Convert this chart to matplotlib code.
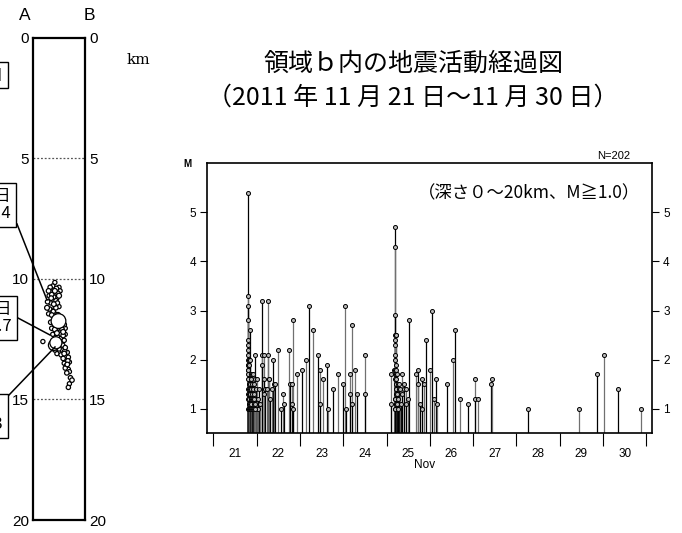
"""M-T diagram of earthquakes in region b, with the depth cross-section strip on the left."""
import numpy as np
import matplotlib
matplotlib.use("Agg")
import matplotlib.pyplot as plt
from matplotlib.lines import Line2D

plt.rcParams['font.family'] = ['Liberation Sans', 'DejaVu Sans']
JP = ['Noto Sans CJK JP', 'DejaVu Sans']

W, H = 682, 533

def fx(x):
    return x / W

def fy(y):
    return 1 - y / H

# ---- data: time (day of Nov 2011) and magnitude ----
mt_day = [
    # swarm start, 21 Nov evening
    21.800, 21.802, 21.804, 21.806, 21.810, 21.805, 21.808, 21.812, 21.803, 21.815,
    21.807, 21.811, 21.809, 21.813, 21.816, 21.806, 21.818, 21.804, 21.814, 21.820,
    21.810, 21.822, 21.808, 21.817, 21.825, 21.812, 21.819, 21.826, 21.805, 21.823,
    21.828, 21.832, 21.838, 21.843, 21.848, 21.853, 21.858, 21.866, 21.872, 21.878,
    21.850, 21.835, 21.840, 21.845, 21.855, 21.860, 21.862, 21.870, 21.875, 21.880,
    21.885, 21.890, 21.895, 21.900, 21.905, 21.910, 21.915, 21.920, 21.925, 21.930,
    21.940, 21.950, 21.960, 21.965, 21.975, 21.985, 22.000, 22.020, 22.030, 22.040,
    22.060, 22.080, 21.935, 21.945, 21.955, 21.970,
    22.120, 22.125, 22.130, 22.160, 22.165, 22.170, 22.200, 22.230, 22.260, 22.275,
    22.280, 22.290, 22.310, 22.350, 22.370, 22.400, 22.420, 22.490, 22.560, 22.620,
    22.640, 22.740, 22.760, 22.810, 22.815, 22.840, 22.850, 22.930, 23.040, 23.150,
    23.220, 23.300, 23.410, 23.460, 23.470, 23.540, 23.620, 23.660, 23.760, 23.890,
    23.990, 24.050, 24.055, 24.160, 24.165, 24.200, 24.205, 24.280, 24.310, 24.500,
    24.505,
    # second burst, 25 Nov
    25.100, 25.102, 25.170, 25.195, 25.198, 25.200, 25.203, 25.210, 25.220, 25.205,
    25.202, 25.207, 25.201, 25.209, 25.204, 25.212, 25.206, 25.214, 25.199, 25.216,
    25.211, 25.218, 25.208, 25.222, 25.213, 25.225, 25.196, 25.228, 25.215, 25.230,
    25.197, 25.232, 25.235, 25.250, 25.255, 25.260, 25.280, 25.290, 25.320, 25.330,
    25.185, 25.190, 25.240, 25.245, 25.265, 25.270,
    25.350, 25.355, 25.400, 25.405, 25.450, 25.455, 25.500, 25.530, 25.670, 25.730,
    25.735, 25.770, 25.820, 25.830, 25.870, 25.910, 26.000, 26.060, 26.100, 26.140,
    26.170, 26.400, 26.540, 26.590, 26.690, 26.890, 27.040, 27.050, 27.110, 27.410,
    27.440, 28.270, 29.450, 29.850, 30.020, 30.350, 30.870,
]
mt_mag = [
    5.4, 3.3, 3.1, 2.8, 2.4, 2.3, 2.2, 2.1, 2.0, 2.0,
    1.9, 1.9, 1.8, 1.8, 1.7, 1.7, 1.6, 1.6, 1.5, 1.5,
    1.4, 1.4, 1.3, 1.3, 1.2, 1.2, 1.1, 1.1, 1.0, 1.0,
    1.0, 1.2, 1.0, 1.4, 1.1, 1.0, 1.3, 1.0, 1.2, 1.0,
    2.6, 1.9, 1.5, 1.3, 2.0, 1.7, 1.2, 1.6, 1.4, 1.1,
    1.3, 1.0, 1.5, 1.2, 1.7, 1.4, 1.0, 1.7, 1.2, 1.5,
    1.1, 1.3, 2.1, 1.6, 1.4, 1.2, 1.0, 1.6, 1.2, 1.0,
    1.4, 1.1, 1.0, 1.2, 1.0, 1.1,
    3.2, 2.1, 1.9, 2.1, 1.6, 1.3, 1.4, 1.4, 2.1, 3.2,
    1.6, 1.6, 1.2, 1.4, 2.0, 1.5, 1.5, 2.2, 1.0, 1.3,
    1.1, 2.2, 1.5, 1.5, 1.1, 2.8, 1.0, 1.7, 1.8, 2.0,
    3.1, 2.6, 2.1, 1.8, 1.1, 1.6, 1.9, 1.0, 1.4, 1.7,
    1.5, 3.1, 1.0, 1.7, 1.3, 2.7, 1.1, 1.8, 1.3, 2.1,
    1.3,
    1.7, 1.1, 1.8, 4.7, 4.3, 2.9, 2.5, 2.5, 2.5, 2.4,
    2.3, 2.1, 2.0, 1.9, 1.8, 1.8, 1.7, 1.7, 1.6, 1.6,
    1.5, 1.5, 1.4, 1.4, 1.3, 1.3, 1.2, 1.2, 1.1, 1.1,
    1.0, 1.0, 1.0, 1.7, 1.5, 1.3, 1.4, 1.5, 1.4, 1.1,
    1.2, 1.0, 1.3, 1.1, 1.0, 1.2,
    1.7, 1.3, 1.4, 1.5, 1.4, 1.1, 1.2, 2.8, 1.7, 1.8,
    1.5, 1.1, 1.0, 1.6, 1.5, 2.4, 1.8, 3.0, 1.2, 1.6,
    1.1, 1.5, 2.0, 2.6, 1.2, 1.1, 1.6, 1.2, 1.2, 1.5,
    1.6, 1.0, 1.0, 1.7, 2.1, 1.4, 1.0,
]
day_ticks = list(range(21, 32))
day_labels = [str(d) for d in range(21, 31)]
mag_ticks = [1, 2, 3, 4, 5]

# cross-section A-B: position along the section (0..1), depth (km), magnitude
sec_pos = [
    0.42, 0.33, 0.38, 0.45, 0.50, 0.30, 0.36, 0.42, 0.48, 0.52,
    0.31, 0.35, 0.40, 0.46, 0.50, 0.28, 0.34, 0.40, 0.47, 0.27,
    0.32, 0.38, 0.44, 0.50, 0.30, 0.36, 0.42, 0.48, 0.34, 0.40,
    0.58, 0.60, 0.36, 0.42, 0.50, 0.56, 0.62, 0.38, 0.46, 0.52,
    0.58, 0.62, 0.19, 0.48, 0.55, 0.60, 0.42, 0.50, 0.56, 0.62,
    0.46, 0.54, 0.60, 0.66, 0.58, 0.64, 0.68, 0.60, 0.66, 0.70,
    0.62, 0.68, 0.65, 0.70, 0.72, 0.75, 0.70, 0.68, 0.44, 0.52,
    0.47, 0.55, 0.58, 0.36, 0.44, 0.39, 0.47, 0.53, 0.57, 0.61,
    0.63, 0.67, 0.64, 0.49, 0.44, 0.40,
]
sec_depth = [
    10.15, 10.35, 10.30, 10.40, 10.35, 10.50, 10.55, 10.50, 10.60, 10.50,
    10.70, 10.80, 10.75, 10.80, 10.70, 10.95, 11.00, 11.05, 11.00, 11.20,
    11.25, 11.30, 11.20, 11.15, 11.45, 11.50, 11.45, 11.50, 11.80, 11.85,
    11.70, 11.90, 12.05, 12.10, 12.05, 12.10, 12.05, 12.30, 12.25, 12.30,
    12.35, 12.30, 12.60, 12.55, 12.60, 12.55, 12.95, 12.90, 12.95, 12.85,
    13.10, 13.15, 13.10, 13.05, 13.30, 13.35, 13.25, 13.50, 13.55, 13.45,
    13.70, 13.75, 13.90, 13.85, 14.10, 14.20, 14.35, 14.50, 11.95, 12.20,
    12.40, 11.95, 12.20, 10.65, 10.90, 11.35, 11.65, 12.45, 12.75, 13.00,
    13.20, 13.40, 13.60, 11.75, 12.65, 12.75,
]
sec_mag = [
    1.0, 1.2, 1.1, 1.3, 1.0, 1.4, 1.0, 1.5, 1.2, 1.1,
    1.0, 1.3, 1.1, 1.0, 1.6, 1.2, 1.0, 1.4, 1.1, 1.5,
    1.1, 1.0, 1.2, 1.0, 1.0, 1.3, 1.1, 1.7, 1.2, 1.0,
    1.1, 1.3, 1.1, 1.4, 1.0, 1.2, 1.0, 1.0, 1.5, 1.1,
    1.3, 1.0, 1.0, 1.2, 1.0, 1.1, 1.1, 1.3, 1.0, 1.2,
    1.0, 1.1, 1.4, 1.0, 1.2, 1.0, 1.1, 1.0, 1.3, 1.0,
    1.1, 1.0, 1.2, 1.0, 1.1, 1.2, 1.0, 1.1, 1.2, 1.0,
    1.1, 1.0, 1.5, 1.2, 1.0, 1.1, 1.3, 1.0, 1.2, 1.1,
    1.0, 1.2, 1.0, 5.4, 4.7, 4.3,
]
depth_ticks = [0, 5, 10, 15, 20]

fig = plt.figure(figsize=(W / 100, H / 100), dpi=100)

# ---------------- M-T diagram ----------------
ax = fig.add_axes([fx(207), fy(433), (652 - 207) / W, (433 - 163) / H])
stem_cols = ['black' if i % 2 == 0 else '#707070' for i in range(len(mt_day))]
ax.vlines(mt_day, 0.51, mt_mag, colors=stem_cols, lw=0.9)
ax.plot(mt_day, mt_mag, 'o', ls='none', ms=2.9, mfc='#b8b8b8', mec='black', mew=0.7)
ax.set_xlim(20.855, 31.13)
ax.set_ylim(0.51, 6.0)

ax.set_yticks(mag_ticks)
ax.tick_params(axis='y', left=True, right=True, labelleft=True, labelright=True,
               direction='out', length=5, width=0.8, labelsize=8.5, pad=3)
ax.set_xticks(day_ticks)
ax.set_xticklabels([])
ax.set_xticks([d + 0.5 for d in day_ticks[:-1]], minor=True)
ax.set_xticklabels(day_labels, minor=True)
ax.tick_params(axis='x', which='major', direction='out', length=9, width=0.8)
ax.tick_params(axis='x', which='minor', length=0, labelsize=8.5, pad=11)
for s in ax.spines.values():
    s.set_linewidth(1.2)

fig.text(fx(187), fy(164), "M", ha='center', va='center', fontsize=7, weight='bold')
fig.text(fx(630), fy(156), "N=202", ha='right', va='center', fontsize=8)
fig.text(fx(425), fy(465), "Nov", ha='center', va='center', fontsize=8.5)
fig.text(fx(640), fy(193), "（深さ０～20km、M≧1.0）", ha='right', va='center',
         fontsize=12.5, family=JP)

fig.text(fx(413), fy(64), "領域ｂ内の地震活動経過図", ha='center', va='center',
         fontsize=18, family=JP)
fig.text(fx(413), fy(98), "（2011 年 11 月 21 日～11 月 30 日）", ha='center', va='center',
         fontsize=18, family=JP)

# ---------------- cross-section strip ----------------
ax2 = fig.add_axes([fx(33), fy(520), 52 / W, (520 - 37.7) / H])
order = np.argsort(sec_mag)
pos = np.array(sec_pos)[order]
dep = np.array(sec_depth)[order]
mag = np.array(sec_mag)[order]
rad_px = 2.1 * 1.33 ** (mag - 1)
ax2.scatter(pos, dep, s=(2 * rad_px * 0.72) ** 2, facecolors='white',
            edgecolors='black', linewidths=0.9, zorder=3)
ax2.hlines(depth_ticks[1:-1], 0, 1, colors='#555555', linestyles=(0, (1.5, 1.5)), lw=0.9)
ax2.set_xlim(0, 1)
ax2.set_ylim(20, 0)
ax2.set_xticks([])
ax2.set_yticks(depth_ticks)
ax2.tick_params(axis='y', left=False, right=False, labelleft=True, labelright=True,
                length=0, labelsize=11, pad=3)
for s in ax2.spines.values():
    s.set_linewidth(1.6)

fig.text(fx(25), fy(15), "A", ha='center', va='center', fontsize=12.5)
fig.text(fx(89), fy(15), "B", ha='center', va='center', fontsize=12.5)
fig.text(fx(138), fy(60), "km", ha='center', va='center', fontsize=11, family='DejaVu Serif')

# callout boxes, mostly cut off by the left edge of the picture (as in the source figure)
box = dict(boxstyle='square,pad=0.3', fc='white', ec='black', lw=1.0)
fig.text(fx(3), fy(75), "断面図", ha='right', va='center', fontsize=11, family=JP, bbox=box)
fig.text(fx(11), fy(205), "11月21日\nM5.4", ha='right', va='center', ma='right',
         fontsize=12, family=JP, linespacing=1.0, bbox=box)
fig.text(fx(12), fy(318), "11月25日\nM4.7", ha='right', va='center', ma='right',
         fontsize=12, family=JP, linespacing=1.0, bbox=box)
fig.text(fx(3), fy(416), "11月25日\nM4.3", ha='right', va='center', ma='right',
         fontsize=12, family=JP, linespacing=1.0, bbox=box)
for (x0, y0), (x1, y1) in [((17, 224), (47, 300)), ((18, 318), (50, 335)), ((9, 395), (55, 347))]:
    fig.add_artist(Line2D([fx(x0), fx(x1)], [fy(y0), fy(y1)], color='black', lw=1.1, zorder=5))

fig.savefig("out.png", dpi=100)
